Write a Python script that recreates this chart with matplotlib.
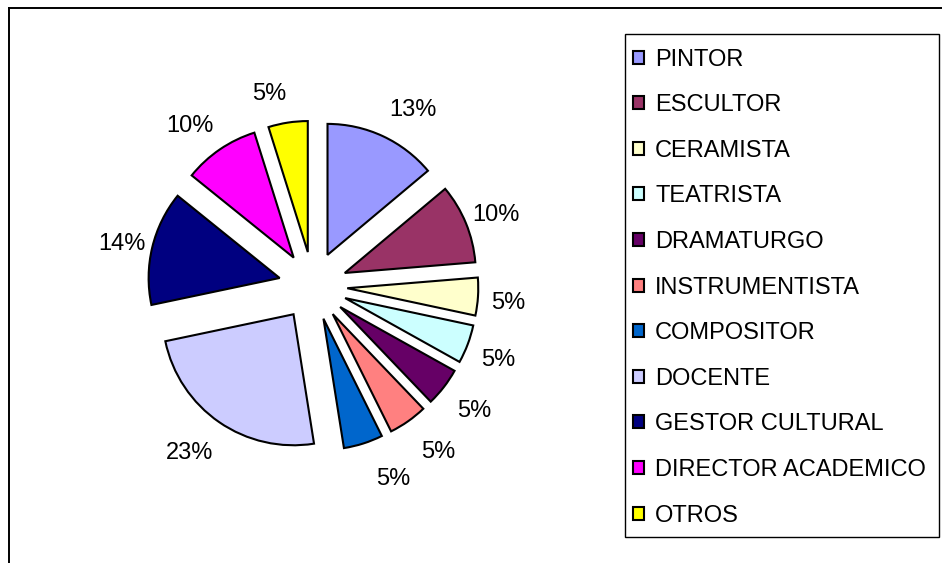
import matplotlib
matplotlib.use('Agg')
import numpy as np
import matplotlib.pyplot as plt
from matplotlib.lines import Line2D
from matplotlib.patches import Rectangle

plt.rcParams['font.family'] = ['Liberation Sans', 'DejaVu Sans']

# datos del grafico (tamano de cada porcion medido en la imagen)
categorias = ['PINTOR', 'ESCULTOR', 'CERAMISTA', 'TEATRISTA', 'DRAMATURGO',
              'INSTRUMENTISTA', 'COMPOSITOR', 'DOCENTE', 'GESTOR CULTURAL',
              'DIRECTOR ACADEMICO', 'OTROS']
valores = [13.9, 9.8, 4.65, 4.75, 4.75, 4.8, 4.85, 24.2, 14.1, 9.35, 4.85]
# etiquetas tal como aparecen en el grafico
etiquetas = ['13%', '10%', '5%', '5%', '5%', '5%', '5%', '23%', '14%', '10%', '5%']
colores = ['#9999FF', '#993366', '#FFFFCC', '#CCFFFF', '#660066', '#FF8080',
           '#0066CC', '#CCCCFF', '#000080', '#FF00FF', '#FFFF00']

W, H = 942, 563
fig = plt.figure(figsize=(W / 100, H / 100), dpi=100)

# marco exterior (solo izquierda y arriba)
fig.add_artist(Line2D([9 / W, 9 / W], [0, 1 - 8 / H], color='black', lw=1.4))
fig.add_artist(Line2D([9 / W, 1], [1 - 8 / H, 1 - 8 / H], color='black', lw=1.4))

# pastel: centro (313, 286) px, radio 131 px
cx, cy, r = 313, 286, 131
half = 210
ax = fig.add_axes([(cx - half) / W, (H - cy - half) / H, 2 * half / W, 2 * half / H])
wedges, _ = ax.pie(
    valores, colors=colores, startangle=90, counterclock=False,
    explode=[0.262] * len(valores),
    wedgeprops=dict(edgecolor='black', linewidth=1.5))
ax.set_xlim(-half / r, half / r)
ax.set_ylim(-half / r, half / r)
ax.set_aspect('equal')
ax.axis('off')

# etiquetas fuera del borde, estilo Excel
for w, txt in zip(wedges, etiquetas):
    ang = np.deg2rad((w.theta1 + w.theta2) / 2)
    ux, uy = np.cos(ang), np.sin(ang)
    px = w.center[0] + w.r * ux + 30 / r * np.clip(4 * ux, -1, 1)
    py = w.center[1] + w.r * uy + 33 / r * uy - 4 / r
    ax.text(px, py, txt, fontsize=17, ha='center', va='center')

# leyenda con marco propio
fig.add_artist(Rectangle((625 / W, 1 - 537 / H), 314 / W, 503 / H, fill=False,
                         edgecolor='black', linewidth=1.0, transform=fig.transFigure))
leg = fig.legend(wedges, categorias, loc='upper left',
                 bbox_to_anchor=(633 / W, 1 - 48.5 / H), borderaxespad=0,
                 fontsize=17, frameon=False,
                 handlelength=0.47, handleheight=0.47, handletextpad=0.47,
                 labelspacing=1.0, borderpad=0)

fig.savefig('out.png', dpi=100)
